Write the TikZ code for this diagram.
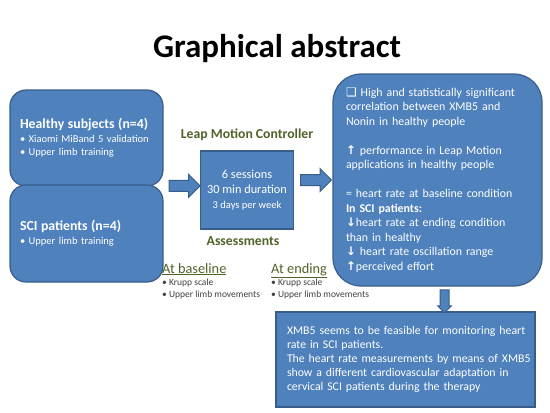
\documentclass[tikz,border=0pt]{standalone}
\usepackage{fontspec}
\setmainfont{Carlito}
\newfontfamily\symfont{DejaVu Sans}
\usetikzlibrary{shapes.arrows,positioning,calc}
\definecolor{boxblue}{HTML}{4F81BD}
\definecolor{boxedge}{HTML}{385D8A}
\definecolor{olive}{HTML}{4F6228}
\definecolor{bulletgray}{HTML}{404040}
\tikzset{
  bluebox/.style={draw=boxedge, line width=1.2pt, fill=boxblue, text=white, align=left, inner xsep=10pt, inner ysep=0pt},
  groupbox/.style={bluebox, rounded corners=16pt, minimum width=153pt, text width=133pt, font=\fontsize{10.5}{13.5}\selectfont},
  olivelabel/.style={font=\fontsize{13.7}{15}\selectfont\bfseries, text=olive},
  assesslabel/.style={align=left, anchor=north west, inner sep=0pt, text=bulletgray, font=\fontsize{9.5}{11.5}\selectfont},
  blockarrow/.style={single arrow, draw=boxedge, line width=1pt, fill=boxblue, inner sep=0pt, minimum width=22pt, single arrow head extend=6pt},
  title/.style={font=\fontsize{33}{36}\selectfont\bfseries, text=black}
}
\newcommand{\jline}[1]{\makebox[237pt][s]{#1}}
\begin{document}
\begin{tikzpicture}[x=1pt,y=-1pt]
\useasboundingbox (0,0) rectangle (550,413);
\node[title] (head) at (277,49) {Graphical abstract};
% subject groups
\node[groupbox, minimum height=96pt] (healthy) at (86.5,138) {{\fontsize{13.8}{16.5}\selectfont\bfseries Healthy subjects (n=4)}\\ • Xiaomi MiBand 5 validation\\ • Upper limb training};
\node[groupbox, minimum height=97pt] (sci) at (86.5,233.5) {{\fontsize{13.8}{16.5}\selectfont\bfseries SCI patients (n=4)}\\ • Upper limb training};
% protocol
\node[bluebox, align=center, minimum width=93pt, minimum height=78pt, inner xsep=0pt, font=\fontsize{12.3}{15}\selectfont] (sessions) at (247,190) {6 sessions\\30 min duration\\{\fontsize{10.5}{13}\selectfont 3 days per week}};
\node[olivelabel] (lmc) at (247,135) {Leap Motion Controller};
\node[olivelabel] (assess) at (243,241) {Assessments};
\node[assesslabel] (baseline) at (162,263) {{\fontsize{14.3}{15.5}\selectfont\color{olive}\underline{At baseline}}\\[1pt] • Krupp scale\\ • Upper limb movements};
\node[assesslabel] (ending) at (271,263) {{\fontsize{14.3}{15.5}\selectfont\color{olive}\underline{At ending}}\\[1pt] • Krupp scale\\ • Upper limb movements};
% results
\node[bluebox, rounded corners=28pt, minimum width=209pt, minimum height=212pt, text width=183pt, inner xsep=13pt, font=\fontsize{11.9}{14.5}\selectfont] (results) at (437.5,180) {{\symfont ❑} High and statistically significant\\correlation between XMB5 and\\Nonin in healthy people\\[14.5pt]{\symfont\bfseries ↑} performance in Leap Motion\\applications in healthy people\\[14.5pt]= heart rate at baseline condition\\\textbf{In SCI patients:}\\{\symfont\bfseries ↓}heart rate at ending condition\\than in healthy\\{\symfont\bfseries ↓} heart rate oscillation range\\{\symfont\bfseries ↑}perceived effort};
\node[bluebox, minimum width=259pt, minimum height=95pt, text width=237pt, inner xsep=11pt, font=\fontsize{11.8}{14}\selectfont] (summary) at (405.5,359.5) {\jline{XMB5 seems to be feasible for monitoring heart}\\rate in SCI patients.\\\jline{The heart rate measurements by means of XMB5}\\\jline{show a different cardiovascular adaptation in}\\cervical SCI patients during the therapy};
% block arrows
\node[blockarrow, minimum height=31pt, inner ysep=5pt] (a1) at ($(healthy.south east)!.5!(sessions.west)+(0,-2.5)$) {};
\node[blockarrow, minimum height=31pt, inner ysep=5pt] (a2) at ($(sessions.east)!.5!(results.west)+(0,-5)$) {};
\node[blockarrow, rotate=-90, minimum height=23pt, minimum width=13pt, inner ysep=4pt, single arrow head extend=2.5pt] (a3) at ($(results.south)!.5!(results.south |- summary.north)+(7,0)$) {};
\end{tikzpicture}
\end{document}
